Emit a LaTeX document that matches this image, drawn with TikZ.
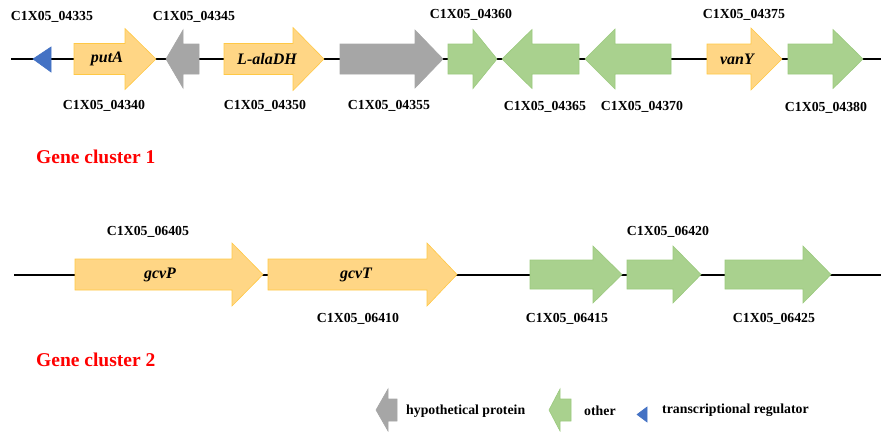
\documentclass[tikz,border=0pt]{standalone}
\usepackage{fontspec}
\setmainfont{Liberation Serif}
\usetikzlibrary{positioning}
\definecolor{geneyellow}{HTML}{FFD685}
\definecolor{geneyellowline}{HTML}{FFC845}
\definecolor{genegreen}{HTML}{A9D18E}
\definecolor{genegreenline}{HTML}{9BC97E}
\definecolor{genegrey}{HTML}{A6A6A6}
\definecolor{geneblue}{HTML}{4472C4}
\definecolor{clusterred}{HTML}{FF0000}
% gene arrow: style, tail x, shoulder x, tip x, centre y, half body, half head
\newcommand{\gene}[7]{%
  \draw[#1] (#2,#5-#6) -- (#3,#5-#6) -- (#3,#5-#7) -- (#4,#5)
    -- (#3,#5+#7) -- (#3,#5+#6) -- (#2,#5+#6) -- cycle;}

\begin{document}
\begin{tikzpicture}[x=1pt, y=-1pt,
    yellowgene/.style={fill=geneyellow, draw=geneyellowline, line width=0.6pt},
    greengene/.style={fill=genegreen, draw=genegreenline, line width=0.6pt},
    greygene/.style={fill=genegrey, draw=genegrey, line width=0.6pt},
    bluegene/.style={fill=geneblue, draw=geneblue, line width=0.6pt},
    backbone/.style={line width=1.8pt, black},
    locus/.style={font=\bfseries\fontsize{13.8}{16}\selectfont, inner sep=0pt},
    genename/.style={font=\bfseries\itshape\fontsize{16}{19}\selectfont, inner sep=0pt},
    cluster/.style={font=\bfseries\fontsize{19.5}{22}\selectfont, text=clusterred, inner sep=0pt, anchor=west}]
\useasboundingbox (0,0) rectangle (882,431);

% cluster 1
\coordinate (c1start) at (11,59);
\coordinate (c1end) at (881,59);
\draw[backbone] (c1start) -- (c1end);
\draw[bluegene] (33,59) -- (51,47) -- (51,72) -- cycle;
\gene{yellowgene}{74}{125}{156}{59}{15.5}{30.5}
\gene{greygene}{199}{183}{166}{59}{15}{29}
\gene{yellowgene}{224}{293}{324}{59}{15.5}{31.5}
\gene{greygene}{340}{415}{443}{59}{15}{29}
\gene{greengene}{448}{473}{497}{59}{15}{29.5}
\gene{greengene}{579}{532}{502}{59}{15}{29.5}
\gene{greengene}{671}{615}{585}{59}{15}{30}
\gene{yellowgene}{707}{751}{782}{59}{15}{31}
\gene{greengene}{788}{833}{863}{59}{15}{29.5}

\node[genename] (putA) at (107,59) {putA};
\node[genename] (alaDH) at (267,59) {L-alaDH};
\node[genename] (vanY) at (737,59) {vanY};

\node[locus] (l04335) at (52,17) {C1X05\_04335};
\node[locus] (l04345) at (194,17) {C1X05\_04345};
\node[locus] (l04360) at (471,15) {C1X05\_04360};
\node[locus] (l04375) at (744,15) {C1X05\_04375};
\node[locus] (l04340) at (104,106) {C1X05\_04340};
\node[locus] (l04350) at (265,106) {C1X05\_04350};
\node[locus] (l04355) at (389,106) {C1X05\_04355};
\node[locus] (l04365) at (545,107) {C1X05\_04365};
\node[locus] (l04370) at (642,107) {C1X05\_04370};
\node[locus] (l04380) at (826,108) {C1X05\_04380};

\node[cluster] (cl1) at (36,157) {Gene cluster 1};

% cluster 2
\coordinate (c2start) at (14,275);
\coordinate (c2end) at (881,275);
\draw[backbone] (c2start) -- (c2end);
\gene{yellowgene}{75}{232}{263}{274.5}{15.5}{31.5}
\gene{yellowgene}{268}{427}{457}{274.5}{15.5}{31.5}
\gene{greengene}{530}{593}{622}{274.5}{14.5}{28.5}
\gene{greengene}{627}{673}{701}{274.5}{14.5}{28.5}
\gene{greengene}{725}{803}{831}{274.5}{14.5}{28.5}

\node[genename] (gcvP) at (160,274.5) {gcvP};
\node[genename] (gcvT) at (356,274.5) {gcvT};

\node[locus] (l06405) at (148,232) {C1X05\_06405};
\node[locus] (l06420) at (668,232) {C1X05\_06420};
\node[locus] (l06410) at (358,319) {C1X05\_06410};
\node[locus] (l06415) at (567,319) {C1X05\_06415};
\node[locus] (l06425) at (774,319) {C1X05\_06425};

\node[cluster] (cl2) at (36,360) {Gene cluster 2};

% legend
\gene{greygene}{397}{388}{376}{410}{11}{21}
\node[locus, anchor=west] (lghyp) at (406,411) {hypothetical protein};
\gene{greengene}{571}{560}{549}{410}{11}{21}
\node[locus, anchor=west] (lgother) at (584,411) {other};
\draw[bluegene] (637,414.5) -- (647,407) -- (647,422) -- cycle;
\node[locus, anchor=west] (lgreg) at (662,410) {transcriptional regulator};
\end{tikzpicture}
\end{document}
